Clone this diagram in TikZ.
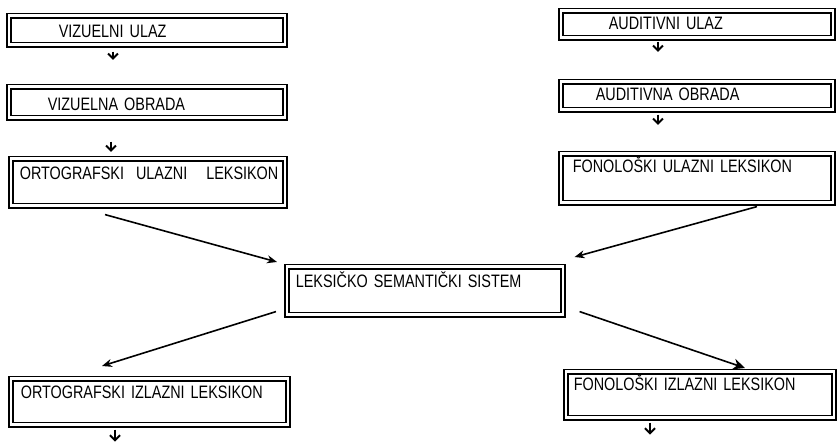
\documentclass[tikz,border=0pt]{standalone}
\usepackage{fontspec}
\setmainfont{Liberation Sans}[FakeStretch=0.8]
\usepackage{tikz}
\usetikzlibrary{arrows.meta, calc}

\begin{document}
\begin{tikzpicture}[x=0.5pt, y=-0.5pt, every node/.style={font=\fontsize{9}{10}\selectfont},
  kutija/.style={draw, double, line width=0.8pt, double distance=1.3pt, anchor=north west, inner ysep=0pt, align=left},
  strelica/.style={line width=0.8pt, -{Stealth[length=5pt, width=4pt]}},
  mala/.style={line width=1pt, -{Straight Barb[length=2.5pt, width=5pt]}}]
  \useasboundingbox (0,0) rectangle (837,442);

  % Nodes - lijevo
  \node[kutija, inner xsep=25pt, text width=88pt, text height=11pt, text depth=3.5pt] (vizulaz) at (8,15) {VIZUELNI ULAZ};
  \node[kutija, inner xsep=19.5pt, text width=99pt, text height=12pt, text depth=3.5pt] (vizobrada) at (8,86) {VIZUELNA OBRADA};
  \node[kutija, inner xsep=4.5pt, text width=128pt, text height=10.5pt, text depth=13pt] (ortulaz) at (10,158) {\mbox{ORTOGRAFSKI\hspace{3pt} ULAZNI\hspace{6.5pt} LEKSIKON}};

  % Nodes - desno
  \node[kutija, inner xsep=24pt, text width=88pt, text height=9.5pt, text depth=4pt] (audulaz) at (560,10) {AUDITIVNI ULAZ};
  \node[kutija, inner xsep=17.5pt, text width=101pt, text height=9.5pt, text depth=4.5pt] (audobrada) at (560,81) {AUDITIVNA OBRADA};
  \node[kutija, inner xsep=6pt, text width=124pt, text height=9.5pt, text depth=15pt] (fonulaz) at (560,153) {FONOLOŠKI ULAZNI LEKSIKON};

  % Nodes - sredina i izlaz
  \node[kutija, inner xsep=4.5pt, text width=129pt, text height=10.5pt, text depth=13.5pt] (lss) at (286,266) {LEKSIČKO SEMANTIČKI SISTEM};
  \node[kutija, inner xsep=5pt, text width=128.5pt, text height=10pt, text depth=13pt] (ortizlaz) at (10,378) {ORTOGRAFSKI IZLAZNI LEKSIKON};
  \node[kutija, inner xsep=4pt, text width=126pt, text height=9.5pt, text depth=13.5pt] (fonizlaz) at (565,371) {FONOLOŠKI IZLAZNI LEKSIKON};

  \coordinate (ortkraj) at ($(ortizlaz.south west)+(105,16)$);
  \coordinate (fonkraj) at ($(fonizlaz.south west)+(85,16)$);

  % Arrows
  \draw[mala] ($(vizulaz.south west)+(105,6)$) -- ($(vizobrada.north west)+(105,-26)$);
  \draw[mala] ($(vizobrada.south west)+(103,23)$) -- ($(ortulaz.north west)+(101,-6)$);
  \draw[mala] ($(audulaz.south west)+(98,3)$) -- ($(audobrada.north west)+(98,-29)$);
  \draw[mala] ($(audobrada.south west)+(98,4)$) -- ($(fonulaz.north west)+(98,-28)$);
  \draw[mala] ($(ortizlaz.south west)+(105,4)$) -- (ortkraj);
  \draw[mala] ($(fonizlaz.south west)+(85,4)$) -- (fonkraj);

  \draw[strelica] ($(ortulaz.south west)+(95,8)$) -- ($(lss.north west)+(-9,-4)$);
  \draw[strelica] ($(fonulaz.south west)+(197,3)$) -- ($(lss.north east)+(11,-9)$);
  \draw[strelica] ($(lss.south west)+(-10,-4)$) -- ($(ortizlaz.north west)+(92,-12)$);
  \draw[strelica, -{Stealth[length=6pt, width=5.5pt]}] ($(lss.south east)+(16,-4)$) -- ($(fonizlaz.north west)+(180,-3)$);
\end{tikzpicture}
\end{document}
